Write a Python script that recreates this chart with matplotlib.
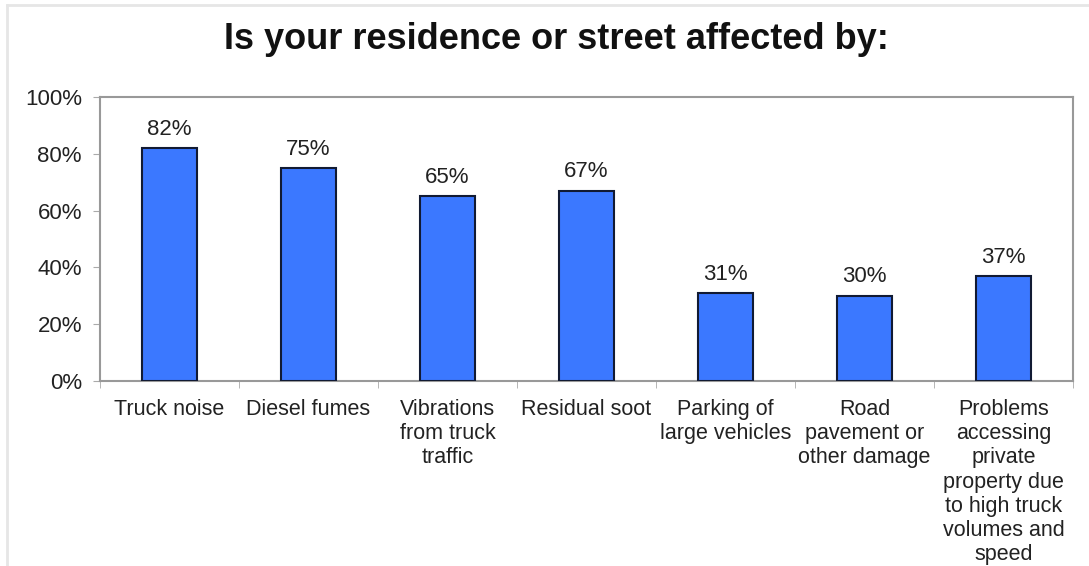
import numpy as np
import matplotlib.pyplot as plt
from matplotlib.lines import Line2D

plt.rcParams['font.family'] = ['Liberation Sans', 'DejaVu Sans']

# data
categories = ['Truck noise', 'Diesel fumes', 'Vibrations\nfrom truck\ntraffic',
              'Residual soot', 'Parking of\nlarge vehicles',
              'Road\npavement or\nother damage',
              'Problems\naccessing\nprivate\nproperty due\nto high truck\nvolumes and\nspeed']
values = [82, 75, 65, 67, 31, 30, 37]
yticks = [0, 20, 40, 60, 80, 100]
title = 'Is your residence or street affected by:'

fig = plt.figure(figsize=(10.89, 5.66), dpi=100)
ax = fig.add_axes([0.0918, 0.3269, 0.8935, 0.5017])

x = np.arange(len(categories))
ax.bar(x, values, width=0.4, color='#3b78ff', edgecolor='#111a33', linewidth=1.5, zorder=3)

for xi, v in zip(x, values):
    ax.annotate('%d%%' % v, (xi, v), xytext=(0, 6), textcoords='offset points',
                ha='center', va='bottom', fontsize=16, color='#222222')

ax.set_xlim(-0.5, len(categories) - 0.5)
ax.set_ylim(0, 100)
ax.set_yticks(yticks)
ax.set_yticklabels(['%d%%' % t for t in yticks], fontsize=16, color='#222222')
ax.set_xticks(x)
ax.set_xticklabels(categories, fontsize=15.5, color='#222222', linespacing=1.2)
ax.set_xticks(np.arange(len(categories) + 1) - 0.5, minor=True)
ax.tick_params(axis='x', which='major', length=0, pad=13)
ax.tick_params(axis='x', which='minor', length=5, color='#aaaaaa', direction='out')
ax.tick_params(axis='y', length=5, color='#aaaaaa', pad=8)

for s in ax.spines.values():
    s.set_color('#999999')
    s.set_linewidth(1.5)

fig.text(0.511, 0.93, title, ha='center', va='center', fontsize=26,
         fontweight='bold', color='#111111')

# light outer frame (top and left)
fig.add_artist(Line2D([0.0064, 1.0], [0.991, 0.991], color='#e6e6e6', lw=2))
fig.add_artist(Line2D([0.0064, 0.0064], [0.0, 0.991], color='#e6e6e6', lw=2))

fig.savefig('out.png', dpi=100)
